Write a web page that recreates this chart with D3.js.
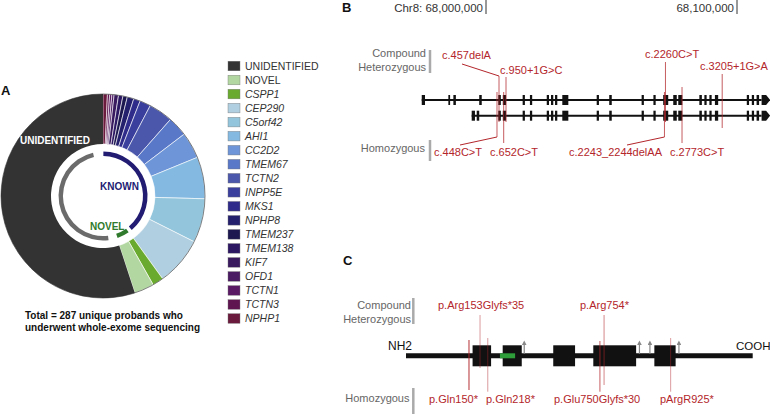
<!DOCTYPE html>
<html>
<head>
<meta charset="utf-8">
<script src="https://cdn.jsdelivr.net/npm/d3@7"></script>
<style>
  body { margin: 0; background: #fff; }
  svg { display: block; font-family: "Liberation Sans", Arial, Helvetica, sans-serif; }
  .panel { font-weight: bold; font-size: 13px; fill: #111; }
  .side { font-size: 11px; fill: #666; }
  .mut { fill: #b3262b; font-size: 11px; }
</style>
</head>
<body>
<svg id="fig" width="770" height="415"></svg>
<script>
// ---------- panel A : probands by gene (legend order) ----------
const categories = ['UNIDENTIFIED', 'NOVEL', 'CSPP1', 'CEP290', 'C5orf42', 'AHI1', 'CC2D2', 'TMEM67', 'TCTN2',
  'INPP5E', 'MKS1', 'NPHP8', 'TMEM237', 'TMEM138', 'KIF7', 'OFD1', 'TCTN1', 'TCTN3', 'NPHP1'];
const counts = [158, 9, 5, 22, 20, 19, 12, 9, 11, 5, 3, 3, 2, 2, 2, 1, 1, 1, 2];
const colors = ['#333333', '#b3d7a1', '#6aaa2e', '#b0cfe0', '#93c6dc', '#84b9e2', '#6d95d7', '#5a78c8', '#4a57aa',
  '#3a3f9e', '#2f2b8a', '#25206e', '#1d1850', '#2c1763', '#391a5f', '#4a1a62', '#5a1a64', '#5e1550', '#6a1a3c'];
const novelGenes = ['NOVEL', 'CSPP1'];
const totalText = ['Total = 287 unique probands who', 'underwent whole-exome sequencing'];

// ---------- panel B : CSPP1 gene model (chr8) ----------
const chrTicks = [68000000, 68100000];
const tx1Exons = [[67974400, 67975700], [67985000, 67985700], [67987000, 67988000], [67997300, 67998300],
  [68004900, 68005900], [68006700, 68008000], [68014600, 68015500], [68017500, 68018400], [68024200, 68025100],
  [68025900, 68026800], [68027500, 68028400], [68030400, 68032800], [68044100, 68045000], [68049100, 68050100],
  [68062000, 68062900], [68066700, 68067600], [68070600, 68072600], [68074600, 68076000], [68076600, 68078200],
  [68085000, 68086000], [68087000, 68087900], [68089000, 68089900], [68091200, 68092500], [68103900, 68104800],
  [68105900, 68106800], [68107800, 68108800]];
const tx2Exons = [[67994300, 67995600], [67996300, 67997300]].concat(tx1Exons.slice(4));
const lastExon = [68109800, 68113200];
const hetCdna = [['c.457delA', 68005180], ['c.950+1G>C', 68007970], ['c.2260C>T', 68071500], ['c.3205+1G>A', 68094100]];
const homCdna = [['c.448C>T', 68004380], ['c.652C>T', 68007050], ['c.2243_2244delAA', 68071100], ['c.2773C>T', 68078100]];

// ---------- panel C : CSPP1 protein ----------
const proteinLength = 1256;
const domains = [[242, 309], [351, 420], [534, 613], [679, 834], [900, 977]];
const motif = [341, 396];
const sites = [429, 846, 884, 989];
const hetProt = [['p.Arg153Glyfs*35', 269], ['p.Arg754*', 718]];
const homProt = [['p.Gln150*', 229], ['p.Gln218*', 297], ['p.Glu750Glyfs*30', 703], ['pArgR925*', 959]];

const svg = d3.select('#fig');
const red = '#b3262b';

// ================= A =================
svg.append('text').attr('class', 'panel').attr('x', 1).attr('y', 95).text('A');

const cx = 103, cy = 196;
const gA = svg.append('g').attr('transform', `translate(${cx},${cy})`);
const rows = categories.map((c, i) => ({ name: c, count: counts[i], color: colors[i] }));
// clockwise from 12 o'clock: NPHP1 ... NOVEL, then UNIDENTIFIED
const pieRows = rows.slice(1).reverse().concat([rows[0]]);
const arcs = d3.pie().value(d => d.count).sort(null)(pieRows);
const arc = d3.arc().innerRadius(52).outerRadius(102);

gA.selectAll('path.slice')
  .data(arcs)
  .join('path')
  .attr('class', 'slice')
  .attr('d', arc)
  .attr('fill', d => d.data.color)
  .attr('stroke', d => d.data.name === 'UNIDENTIFIED' ? 'none' : '#fff')
  .attr('stroke-width', 0.6);
gA.append('circle').attr('r', 102).attr('fill', 'none').attr('stroke', '#333').attr('stroke-width', 0.6);

// inner ring by group
const groupOf = n => n === 'UNIDENTIFIED' ? 'unid' : (novelGenes.includes(n) ? 'novel' : 'known');
const groups = d3.rollups(arcs, v => [d3.min(v, d => d.startAngle), d3.max(v, d => d.endAngle)], d => groupOf(d.data.name));
const ringStyle = {
  known: { color: '#231c73', pad: [0.5, 4.5] },
  novel: { color: '#2f7a2c', pad: [0.5, 1.0] },
  unid: { color: '#6b6b6b', pad: [11, 13] }
};
const rad = Math.PI / 180;
const ringArc = d3.arc().innerRadius(40).outerRadius(44.5);
gA.selectAll('path.ring')
  .data(groups)
  .join('path')
  .attr('class', 'ring')
  .attr('d', ([k, [a0, a1]]) => ringArc({ startAngle: a0 + ringStyle[k].pad[0] * rad, endAngle: a1 - ringStyle[k].pad[1] * rad }))
  .attr('fill', ([k]) => ringStyle[k].color);

svg.append('text').attr('x', 20).attr('y', 144).attr('fill', '#fff').attr('font-weight', 'bold')
  .attr('font-size', 10).text('UNIDENTIFIED');
svg.append('text').attr('x', 100).attr('y', 189.5).attr('fill', '#231c73').attr('font-weight', 'bold')
  .attr('font-size', 10).text('KNOWN');
svg.append('text').attr('x', 90).attr('y', 230).attr('fill', '#2f7a2c').attr('font-weight', 'bold')
  .attr('font-size', 10).text('NOVEL');

svg.selectAll('text.total')
  .data(totalText)
  .join('text')
  .attr('class', 'total')
  .attr('x', 25)
  .attr('y', (d, i) => 319 + i * 11.5)
  .attr('font-size', 10)
  .attr('font-weight', 'bold')
  .attr('fill', '#111')
  .text(d => d);

// legend
const legY = d3.scalePoint().domain(categories).range([66, 318.5]);
const leg = svg.append('g').selectAll('g')
  .data(rows)
  .join('g')
  .attr('transform', d => `translate(228,${legY(d.name)})`);
leg.append('rect').attr('x', 0).attr('y', -4.8).attr('width', 12).attr('height', 9.6)
  .attr('fill', d => d.color).attr('stroke', '#777').attr('stroke-width', 0.4);
leg.append('text').attr('x', 17).attr('y', 3.8).attr('font-size', 10.5).attr('fill', '#333')
  .attr('font-style', d => (d.name === 'UNIDENTIFIED' || d.name === 'NOVEL') ? 'normal' : 'italic')
  .text(d => d.name);

// ================= B =================
svg.append('text').attr('class', 'panel').attr('x', 342).attr('y', 12).text('B');
const xg = d3.scaleLinear().domain(chrTicks).range([486, 737]);
const tickLabel = ['Chr8: ' + d3.format(',')(chrTicks[0]), d3.format(',')(chrTicks[1])];
chrTicks.forEach((t, i) => {
  svg.append('line').attr('x1', xg(t)).attr('x2', xg(t)).attr('y1', 0).attr('y2', 14)
    .attr('stroke', '#333').attr('stroke-width', 1);
  svg.append('text').attr('x', xg(t) - 3).attr('y', 11.5).attr('text-anchor', 'end')
    .attr('font-size', 11.5).attr('fill', '#333').text(tickLabel[i]);
});

function drawTranscript(exons, y) {
  const g = svg.append('g');
  g.append('line').attr('x1', xg(exons[0][0])).attr('x2', xg(lastExon[0])).attr('y1', y).attr('y2', y)
    .attr('stroke', '#111').attr('stroke-width', 2);
  g.selectAll('rect').data(exons).join('rect')
    .attr('x', d => xg(d[0])).attr('width', d => Math.max(1.5, xg(d[1]) - xg(d[0])))
    .attr('y', y - 5).attr('height', 10).attr('fill', '#111');
  const a = xg(lastExon[0]), b = xg(lastExon[1]);
  g.append('polygon').attr('points', `${a},${y - 5} ${b - 4},${y - 5} ${b},${y} ${b - 4},${y + 5} ${a},${y + 5}`)
    .attr('fill', '#111');
}
drawTranscript(tx1Exons, 100);
drawTranscript(tx2Exons, 115.7);

// side labels
function sideLabel(lines, xr, ys, bar) {
  lines.forEach((t, i) => svg.append('text').attr('class', 'side').attr('x', xr).attr('y', ys[i])
    .attr('text-anchor', 'end').text(t));
  svg.append('line').attr('x1', bar[0]).attr('x2', bar[0]).attr('y1', bar[1]).attr('y2', bar[2])
    .attr('stroke', '#aaa').attr('stroke-width', 2.5);
}
sideLabel(['Compound', 'Heterozygous'], 426, [57.3, 70.7], [430, 50, 73]);
sideLabel(['Homozygous'], 425, [152.3], [430, 140, 161]);

const bLayout = {
  'c.457delA': { tx: 442, ty: 59, y1: 76, y2: 122, leader: [462, 64] },
  'c.950+1G>C': { tx: 500, ty: 74, y1: 77, y2: 122 },
  'c.2260C>T': { tx: 645, ty: 57.5, y1: 62, y2: 122 },
  'c.3205+1G>A': { tx: 700, ty: 69.5, y1: 74, y2: 128 },
  'c.448C>T': { tx: 434, ty: 155.5, y1: 92, y2: 137, leader: [460, 145] },
  'c.652C>T': { tx: 490, ty: 155.5, y1: 92, y2: 143 },
  'c.2243_2244delAA': { tx: 569, ty: 155.5, y1: 92, y2: 137, leader: [627, 145] },
  'c.2773C>T': { tx: 670, ty: 155.5, y1: 87, y2: 143, fs: 10 }
};
function drawVariants(list, xs, layout) {
  list.forEach(([name, pos]) => {
    const L = layout[name], x = xs(pos);
    svg.append('line').attr('x1', x).attr('x2', x).attr('y1', L.y1).attr('y2', L.y2)
      .attr('stroke', red).attr('stroke-width', 1).attr('opacity', L.op || 0.75);
    if (L.leader) {
      const yEnd = L.leader[1] < L.y1 ? L.y1 : L.y2;
      svg.append('line').attr('x1', L.leader[0]).attr('y1', L.leader[1]).attr('x2', x).attr('y2', yEnd)
        .attr('stroke', red).attr('stroke-width', 1);
    }
    svg.append('text').attr('class', 'mut').attr('x', L.tx).attr('y', L.ty)
      .attr('font-size', L.fs || 11).text(name);
  });
}
drawVariants(hetCdna, xg, bLayout);
drawVariants(homCdna, xg, bLayout);

// ================= C =================
svg.append('text').attr('class', 'panel').attr('x', 343).attr('y', 265).text('C');
const xp = d3.scaleLinear().domain([1, proteinLength]).range([406, 752.7]);
const py = 355.8;
svg.append('line').attr('x1', xp(1)).attr('x2', xp(proteinLength)).attr('y1', py).attr('y2', py)
  .attr('stroke', '#111').attr('stroke-width', 5);
svg.append('g').selectAll('rect').data(domains).join('rect')
  .attr('x', d => xp(d[0])).attr('width', d => xp(d[1]) - xp(d[0]))
  .attr('y', py - 10.5).attr('height', 21).attr('fill', '#111');
svg.append('rect').attr('x', xp(motif[0])).attr('width', xp(motif[1]) - xp(motif[0]))
  .attr('y', py - 2.5).attr('height', 5).attr('fill', '#2e9e3a');

svg.append('defs').append('marker').attr('id', 'ah').attr('viewBox', '0 0 6 6').attr('refX', 3).attr('refY', 3)
  .attr('markerWidth', 4).attr('markerHeight', 4).attr('orient', 'auto')
  .append('path').attr('d', 'M0,0L6,3L0,6Z').attr('fill', '#888');
svg.append('g').selectAll('line').data(sites).join('line')
  .attr('x1', d => xp(d)).attr('x2', d => xp(d)).attr('y1', py - 2).attr('y2', py - 13)
  .attr('stroke', '#888').attr('stroke-width', 1.2).attr('marker-end', 'url(#ah)');

svg.append('text').attr('x', 412).attr('y', 350).attr('text-anchor', 'end').attr('font-size', 12)
  .attr('fill', '#111').text('NH2');
svg.append('text').attr('x', 736).attr('y', 350).attr('font-size', 11.5).attr('fill', '#111').text('COOH');

sideLabel(['Compound', 'Heterozygous'], 411, [309, 323.3], [413.3, 298, 324]);
sideLabel(['Homozygous'], 409.5, [402.3], [413.3, 388, 414]);

const cLayout = {
  'p.Arg153Glyfs*35': { tx: 438, ty: 308.5, y1: 315, y2: 368, op: 0.45 },
  'p.Arg754*': { tx: 580, ty: 308.5, y1: 315, y2: 385, op: 0.55 },
  'p.Gln150*': { tx: 429, ty: 402.5, y1: 340, y2: 390, op: 0.95 },
  'p.Gln218*': { tx: 486, ty: 402.5, y1: 338, y2: 391.7, op: 0.45 },
  'p.Glu750Glyfs*30': { tx: 554, ty: 402.5, y1: 341, y2: 391.7, op: 0.75 },
  'pArgR925*': { tx: 660, ty: 402.5, y1: 338, y2: 391.7, op: 0.45 }
};
drawVariants(hetProt, xp, cLayout);
drawVariants(homProt, xp, cLayout);
svg.selectAll('text.mut').filter(function () { return this.getAttribute('y') > 300; })
  .attr('font-size', 11.5);
</script>
</body>
</html>
